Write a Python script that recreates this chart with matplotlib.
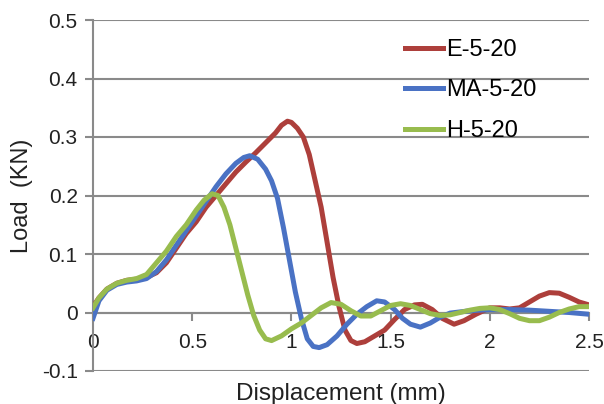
import matplotlib
matplotlib.use("Agg")
import matplotlib.pyplot as plt
from matplotlib.ticker import FuncFormatter

plt.rcParams['font.family'] = ['Liberation Sans', 'DejaVu Sans']
plt.rcParams['axes.unicode_minus'] = False

# E-5-20 (red)
e_x = [0, 0.03, 0.07, 0.12, 0.17, 0.22, 0.27, 0.32, 0.37, 0.42, 0.47, 0.52, 0.57,
       0.62, 0.67, 0.72, 0.77, 0.82, 0.87, 0.92, 0.95, 0.98, 1.0, 1.03, 1.06, 1.09,
       1.12, 1.15, 1.18, 1.21, 1.24, 1.27, 1.3, 1.33, 1.37, 1.42, 1.47, 1.52, 1.57,
       1.62, 1.66, 1.71, 1.76, 1.82, 1.87, 1.93, 2.0, 2.05, 2.1, 2.15, 2.2, 2.25,
       2.3, 2.35, 2.4, 2.45, 2.5]
e_y = [0.01, 0.025, 0.04, 0.05, 0.055, 0.057, 0.06, 0.068, 0.085, 0.11, 0.135, 0.155,
       0.18, 0.2, 0.22, 0.24, 0.257, 0.273, 0.29, 0.307, 0.32, 0.327, 0.325, 0.315,
       0.3, 0.27, 0.225, 0.18, 0.12, 0.06, 0.01, -0.03, -0.048, -0.053, -0.05, -0.04,
       -0.03, -0.012, 0.005, 0.013, 0.014, 0.005, -0.01, -0.02, -0.014, -0.003, 0.008,
       0.008, 0.006, 0.008, 0.018, 0.028, 0.034, 0.033, 0.026, 0.018, 0.013]

# MA-5-20 (blue)
ma_x = [0, 0.03, 0.07, 0.12, 0.17, 0.22, 0.27, 0.32, 0.37, 0.42, 0.47, 0.52, 0.57,
        0.62, 0.67, 0.72, 0.76, 0.79, 0.83, 0.87, 0.9, 0.93, 0.96, 0.99, 1.02, 1.05,
        1.08, 1.11, 1.14, 1.18, 1.23, 1.28, 1.33, 1.38, 1.43, 1.47, 1.52, 1.56, 1.6,
        1.65, 1.7, 1.75, 1.8, 1.9, 2.0, 2.1, 2.2, 2.3, 2.4, 2.5]
ma_y = [-0.01, 0.02, 0.038, 0.048, 0.052, 0.054, 0.058, 0.07, 0.09, 0.115, 0.14, 0.165,
        0.19, 0.215, 0.237, 0.255, 0.265, 0.268, 0.262, 0.245, 0.225, 0.195, 0.145,
        0.09, 0.035, -0.01, -0.045, -0.058, -0.06, -0.055, -0.04, -0.02, -0.003, 0.01,
        0.02, 0.018, 0.005, -0.01, -0.02, -0.025, -0.018, -0.008, -0.001, 0.003, 0.005,
        0.005, 0.004, 0.002, 0.0, -0.003]

# H-5-20 (green)
h_x = [0, 0.03, 0.07, 0.12, 0.17, 0.22, 0.27, 0.32, 0.37, 0.42, 0.47, 0.52, 0.56, 0.6,
       0.63, 0.66, 0.69, 0.72, 0.75, 0.78, 0.81, 0.84, 0.87, 0.9, 0.95, 1.0, 1.05, 1.1,
       1.15, 1.2, 1.25, 1.3, 1.35, 1.4, 1.45, 1.5, 1.55, 1.6, 1.65, 1.7, 1.75, 1.8,
       1.85, 1.9, 1.95, 2.0, 2.05, 2.1, 2.15, 2.2, 2.25, 2.3, 2.35, 2.4, 2.45, 2.5]
h_y = [0.008, 0.025, 0.04, 0.05, 0.055, 0.058, 0.065, 0.085, 0.105, 0.13, 0.15, 0.175,
       0.192, 0.203, 0.2, 0.18, 0.15, 0.11, 0.07, 0.03, -0.005, -0.03, -0.045, -0.048,
       -0.04, -0.028, -0.018, -0.005, 0.008, 0.017, 0.014, 0.003, -0.006, -0.006, 0.003,
       0.012, 0.015, 0.012, 0.005, -0.002, -0.005, -0.004, 0.0, 0.004, 0.007, 0.008,
       0.005, -0.002, -0.01, -0.014, -0.014, -0.008, 0.0, 0.006, 0.01, 0.01]

x_ticks = [0, 0.5, 1, 1.5, 2, 2.5]
y_ticks = [-0.1, 0, 0.1, 0.2, 0.3, 0.4, 0.5]

fig = plt.figure(figsize=(6.04, 4.04), dpi=100)
ax = fig.add_axes([93 / 604, 1 - 371 / 404, 496 / 604, 351 / 404])

ax.plot(e_x, e_y, color='#AD3F3B', lw=3.6, label='E-5-20', zorder=3)
ax.plot(ma_x, ma_y, color='#4A72C4', lw=3.6, label='MA-5-20', zorder=3)
ax.plot(h_x, h_y, color='#98BC4E', lw=3.6, label='H-5-20', zorder=4)

ax.set_xlim(0, 2.5)
ax.set_ylim(-0.1, 0.5)
ax.set_xticks(x_ticks)
ax.set_yticks(y_ticks)
fmt = FuncFormatter(lambda v, p: f'{v:g}')
ax.xaxis.set_major_formatter(fmt)
ax.yaxis.set_major_formatter(fmt)

ax.grid(axis='y', color='#8a8a8a', lw=1.5)
ax.set_axisbelow(True)
for s in ['top', 'right']:
    ax.spines[s].set_visible(False)
ax.spines['bottom'].set_position(('data', 0))
ax.spines['bottom'].set_color('#8a8a8a')
ax.spines['bottom'].set_linewidth(1.5)
ax.spines['left'].set_color('#8a8a8a')
ax.spines['left'].set_linewidth(1.5)
ax.tick_params(axis='both', colors='#8a8a8a', width=1.5, length=6,
               labelsize=15, labelcolor='#222222')
ax.tick_params(axis='x', pad=9)
ax.tick_params(axis='y', pad=5)

ax.set_xlabel('Displacement (mm)', fontsize=17.5, color='#222222')
ax.xaxis.set_label_coords(0.5, -0.035)
ax.set_ylabel('Load  (KN)', fontsize=17, color='#222222')
ax.yaxis.set_label_coords(-0.12, 0.5)

ax.legend(loc='upper left', bbox_to_anchor=(0.629, 0.946), frameon=False,
          fontsize=17, handlelength=1.6, handletextpad=0.15, labelspacing=0.78,
          borderaxespad=0, borderpad=0)

fig.savefig('out.png', dpi=100)
